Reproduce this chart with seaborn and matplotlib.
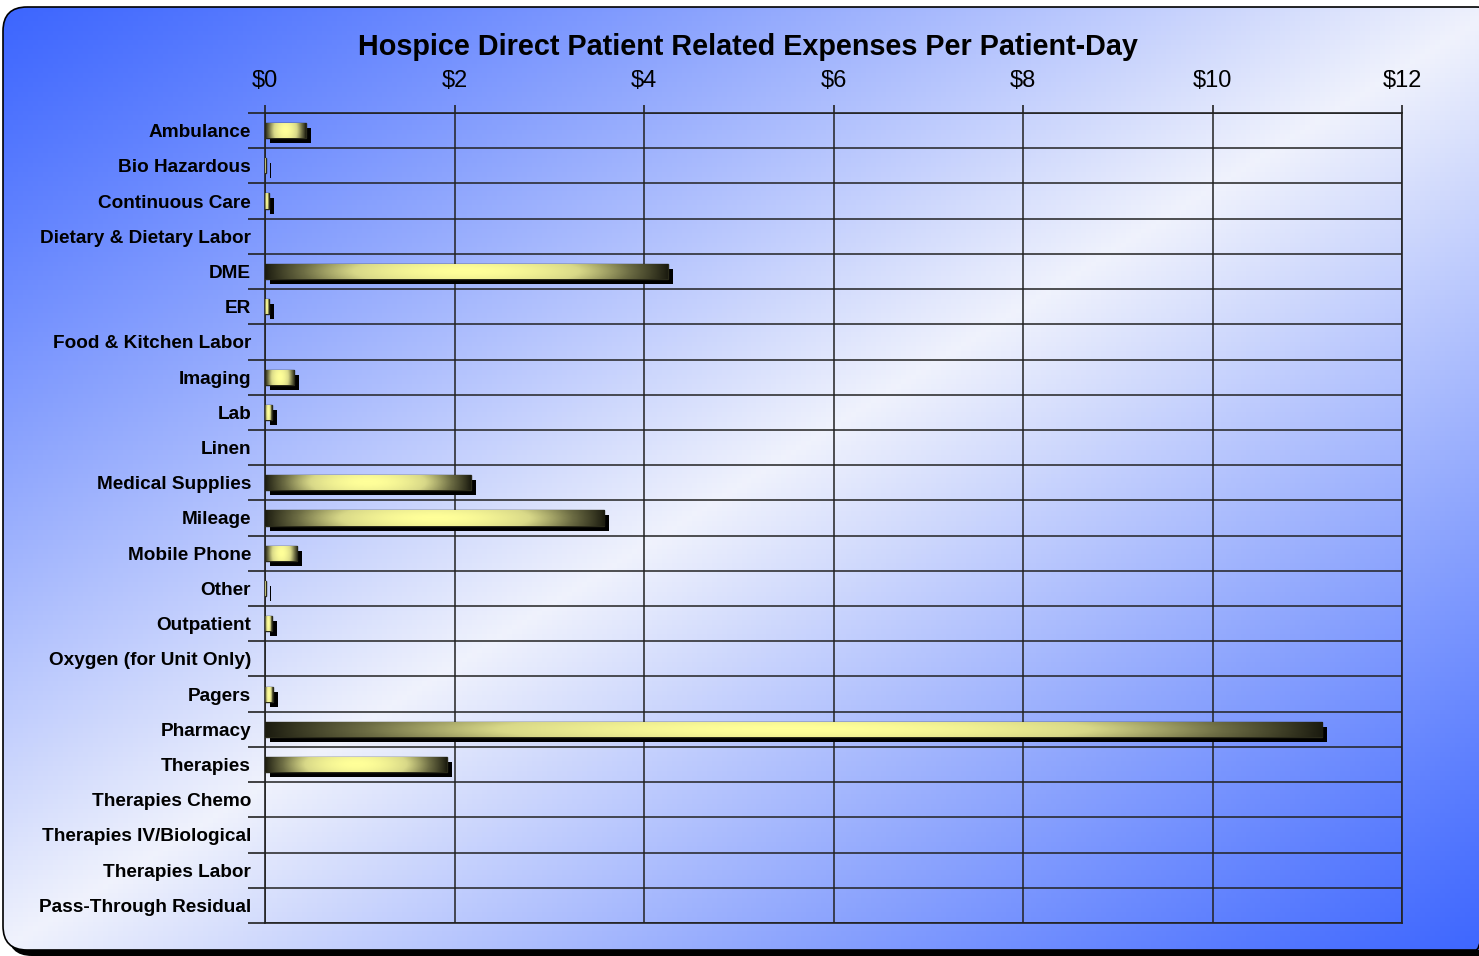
import numpy as np
import matplotlib
matplotlib.use("Agg")
import matplotlib.pyplot as plt
import matplotlib.patheffects as pe
from matplotlib.colors import LinearSegmentedColormap
from matplotlib.patches import FancyBboxPatch
import seaborn as sns

categories = ["Ambulance", "Bio Hazardous", "Continuous Care", "Dietary & Dietary Labor",
              "DME", "ER", "Food & Kitchen Labor", "Imaging", "Lab", "Linen",
              "Medical Supplies", "Mileage", "Mobile Phone", "Other", "Outpatient",
              "Oxygen (for Unit Only)", "Pagers", "Pharmacy", "Therapies",
              "Therapies Chemo", "Therapies IV/Biological", "Therapies Labor",
              "Pass-Through Residual"]
expenses = [0.43, 0.01, 0.04, 0.0, 4.25, 0.04, 0.0, 0.31, 0.07, 0.0,
            2.17, 3.58, 0.34, 0.01, 0.07, 0.0, 0.08, 11.16, 1.92,
            0.0, 0.0, 0.0, 0.0]
x_ticks = [0, 2, 4, 6, 8, 10, 12]
x_labels = ["\\$0", "\\$2", "\\$4", "\\$6", "\\$8", "\\$10", "\\$12"]

plt.rcParams['font.family'] = ['Liberation Sans', 'DejaVu Sans']

W, H = 1479, 956
fig = plt.figure(figsize=(W / 100, H / 100), dpi=100)

# background panel with diagonal gradient
bg = fig.add_axes([0, 0, 1, 1], zorder=-5)
bg.set_xlim(0, W)
bg.set_ylim(H, 0)
bg.axis("off")
blue = np.array([0.24, 0.40, 1.0])
light = np.array([0.94, 0.95, 0.99])
gx, gy = np.meshgrid(np.linspace(0, 1, 300), np.linspace(0, 1, 200))
t = (gx + gy) / 2
s = np.clip(1 - np.abs(t - 0.5) / 0.5, 0, 1) ** 1.1
img = blue[None, None, :] * (1 - s[..., None]) + light[None, None, :] * s[..., None]
shadow = FancyBboxPatch((8, 13), 1495, 943, boxstyle="round,pad=0,rounding_size=24",
                        facecolor="black", edgecolor="none")
bg.add_patch(shadow)
panel = FancyBboxPatch((3, 7), 1497, 943, boxstyle="round,pad=0,rounding_size=24",
                       facecolor="none", edgecolor="black", linewidth=1.2, zorder=3)
bg.add_patch(panel)
im = bg.imshow(img, extent=[3, 1500, 950, 7], aspect="auto", zorder=2)
im.set_clip_path(panel)

ax = fig.add_axes([265 / W, 1 - 923 / H, (1402 - 265) / W, (923 - 113) / H])
ax.set_facecolor("none")

sns.barplot(x=expenses, y=categories, orient="h", width=0.43, color="#b0b070",
            edgecolor="#2a2a1a", linewidth=1, ax=ax, zorder=3)

cmap = LinearSegmentedColormap.from_list("bar", ["#1c1c10", "#6e6e45", "#d8d888", "#ffff99"])
u = np.linspace(0, 1, 256)
v = np.linspace(0, 1, 16)
uu, vv = np.meshgrid(u, v)
grad = np.sin(np.pi * uu) ** 0.9 * (0.9 + 0.1 * np.sin(np.pi * vv))
for p in ax.patches:
    x0, y0 = p.get_x(), p.get_y()
    w, h = p.get_width(), p.get_height()
    if w <= 0:
        p.set_visible(False)
        continue
    p.set_path_effects([pe.SimplePatchShadow(offset=(3.6, -3.6), shadow_rgbFace="black", alpha=1),
                        pe.Normal()])
    g = ax.imshow(grad, extent=[x0, x0 + w, y0 + h, y0], aspect="auto", cmap=cmap,
                  vmin=0, vmax=1, zorder=4, interpolation="bilinear")
    g.set_clip_path(p)

ax.set_xlim(0, 12)
ax.set_ylim(len(categories) - 0.5, -0.5)
ax.set_aspect("auto")

ax.xaxis.tick_top()
ax.set_xticks(x_ticks)
ax.set_xticklabels(x_labels, fontsize=17)
ax.tick_params(axis="x", length=6, width=1.2, color="#222222", pad=9)
ax.set_yticks(range(len(categories)))
ax.set_yticklabels(categories, fontsize=13.7, fontweight="bold")
ax.set_yticks(np.arange(-0.5, len(categories), 1), minor=True)
ax.tick_params(axis="y", which="major", length=0, pad=10)
ax.tick_params(axis="y", which="minor", length=12, width=1.2, color="#222222")
ax.grid(axis="x", which="major", color="#222222", linewidth=1.1, zorder=1)
ax.grid(axis="y", which="minor", color="#222222", linewidth=1.1, zorder=1)
ax.grid(axis="y", which="major", visible=False)
ax.set_axisbelow(True)
for sp in ax.spines.values():
    sp.set_color("#222222")
    sp.set_linewidth(1.2)
ax.set_xlabel("")
ax.set_ylabel("")

fig.text(748 / W, 1 - 47 / H, "Hospice Direct Patient Related Expenses Per Patient-Day",
         ha="center", va="center", fontsize=20.7, fontweight="bold")

fig.savefig("out.png", dpi=100)
